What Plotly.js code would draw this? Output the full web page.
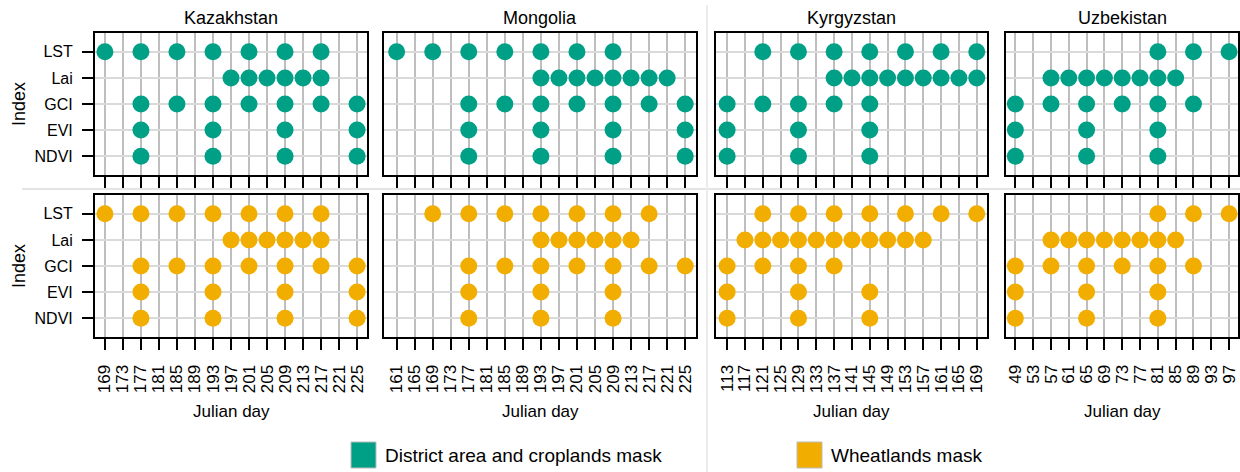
<!DOCTYPE html>
<html>
<head>
<meta charset="utf-8">
<script src="https://cdn.plot.ly/plotly-3.0.1.min.js"></script>
<style>html,body{margin:0;padding:0;background:#fff;}#chart{width:1240px;height:472px;}</style>
</head>
<body>
<div id="chart"></div>
<script>
// ---- categories ----
const indices = ['NDVI', 'EVI', 'GCI', 'Lai', 'LST'];
const countries = ['Kazakhstan', 'Mongolia', 'Kyrgyzstan', 'Uzbekistan'];
const masks = ['District area and croplands mask', 'Wheatlands mask'];

// ---- tick labels (Julian day) ----
const kazTicks = [169,173,177,181,185,189,193,197,201,205,209,213,217,221,225];
const monTicks = [161,165,169,173,177,181,185,189,193,197,201,205,209,213,217,221,225];
const kyrTicks = [113,117,121,125,129,133,137,141,145,149,153,157,161,165,169];
const uzbTicks = [49,53,57,61,65,69,73,77,81,85,89,93,97];

// ---- Kazakhstan, croplands mask ----
const kazCropNDVI = [177,193,209,225];
const kazCropEVI  = [177,193,209,225];
const kazCropGCI  = [177,185,193,201,209,217,225];
const kazCropLai  = [197,201,205,209,213,217];
const kazCropLST  = [169,177,185,193,201,209,217];
// ---- Kazakhstan, wheatlands mask ----
const kazWheatNDVI = [177,193,209,225];
const kazWheatEVI  = [177,193,209,225];
const kazWheatGCI  = [177,185,193,201,209,217,225];
const kazWheatLai  = [197,201,205,209,213,217];
const kazWheatLST  = [169,177,185,193,201,209,217];

// ---- Mongolia, croplands mask ----
const monCropNDVI = [177,193,209,225];
const monCropEVI  = [177,193,209,225];
const monCropGCI  = [177,185,193,201,209,217,225];
const monCropLai  = [193,197,201,205,209,213,217,221];
const monCropLST  = [161,169,177,185,193,201,209];
// ---- Mongolia, wheatlands mask ----
const monWheatNDVI = [177,193,209];
const monWheatEVI  = [177,193,209];
const monWheatGCI  = [177,185,193,201,209,217,225];
const monWheatLai  = [193,197,201,205,209,213];
const monWheatLST  = [169,177,185,193,201,209,217];

// ---- Kyrgyzstan, croplands mask ----
const kyrCropNDVI = [113,129,145];
const kyrCropEVI  = [113,129,145];
const kyrCropGCI  = [113,121,129,137,145];
const kyrCropLai  = [137,141,145,149,153,157,161,165,169];
const kyrCropLST  = [121,129,137,145,153,161,169];
// ---- Kyrgyzstan, wheatlands mask ----
const kyrWheatNDVI = [113,129,145];
const kyrWheatEVI  = [113,129,145];
const kyrWheatGCI  = [113,121,129,137];
const kyrWheatLai  = [117,121,125,129,133,137,141,145,149,153,157];
const kyrWheatLST  = [121,129,137,145,153,161,169];

// ---- Uzbekistan, croplands mask ----
const uzbCropNDVI = [49,65,81];
const uzbCropEVI  = [49,65,81];
const uzbCropGCI  = [49,57,65,73,81,89];
const uzbCropLai  = [57,61,65,69,73,77,81,85];
const uzbCropLST  = [81,89,97];
// ---- Uzbekistan, wheatlands mask ----
const uzbWheatNDVI = [49,65,81];
const uzbWheatEVI  = [49,65,81];
const uzbWheatGCI  = [49,57,65,73,81,89];
const uzbWheatLai  = [57,61,65,69,73,77,81,85];
const uzbWheatLST  = [81,89,97];

// ---- styling ----
const COL_CROP = '#00A087';
const COL_WHEAT = '#F2AE00';
const W = 1240, H = 472;
const FONT = 'Liberation Sans, Arial, sans-serif';

const panelsX = [[95, 367], [384, 696], [716, 987], [1006, 1238]];
const rangesX = [[166.8, 227.2], [158.2, 227.4], [110.5, 171.3], [46.9, 99.0]];
const ticksX = [kazTicks, monTicks, kyrTicks, uzbTicks];
const rowsY = [[33, 175], [195, 337]];

const sets = [
  [ [kazCropNDVI,kazCropEVI,kazCropGCI,kazCropLai,kazCropLST],
    [monCropNDVI,monCropEVI,monCropGCI,monCropLai,monCropLST],
    [kyrCropNDVI,kyrCropEVI,kyrCropGCI,kyrCropLai,kyrCropLST],
    [uzbCropNDVI,uzbCropEVI,uzbCropGCI,uzbCropLai,uzbCropLST] ],
  [ [kazWheatNDVI,kazWheatEVI,kazWheatGCI,kazWheatLai,kazWheatLST],
    [monWheatNDVI,monWheatEVI,monWheatGCI,monWheatLai,monWheatLST],
    [kyrWheatNDVI,kyrWheatEVI,kyrWheatGCI,kyrWheatLai,kyrWheatLST],
    [uzbWheatNDVI,uzbWheatEVI,uzbWheatGCI,uzbWheatLai,uzbWheatLST] ]
];
const rowColors = [COL_CROP, COL_WHEAT];

const px2x = p => p / W;
const px2y = p => 1 - p / H;

const data = [];
const layout = {
  width: W, height: H,
  margin: {l: 0, r: 0, t: 0, b: 0},
  paper_bgcolor: '#fff', plot_bgcolor: '#fff',
  showlegend: false,
  font: {family: FONT, color: '#000'},
  annotations: [], shapes: []
};

let n = 0;
for (let r = 0; r < 2; r++) {
  for (let c = 0; c < 4; c++) {
    n++;
    const xs = [], ys = [];
    sets[r][c].forEach((arr, i) => { arr.forEach(d => { xs.push(d); ys.push(indices[i]); }); });
    const xa = 'x' + (n === 1 ? '' : n), ya = 'y' + (n === 1 ? '' : n);
    data.push({
      type: 'scatter', mode: 'markers', x: xs, y: ys,
      xaxis: xa, yaxis: ya, cliponaxis: false, hoverinfo: 'x+y',
      marker: {color: rowColors[r], size: 17, line: {width: 0}}
    });
    const xk = 'xaxis' + (n === 1 ? '' : n), yk = 'yaxis' + (n === 1 ? '' : n);
    layout[xk] = {
      domain: [px2x(panelsX[c][0]), px2x(panelsX[c][1])],
      anchor: ya, range: rangesX[c],
      tickmode: 'array', tickvals: ticksX[c], ticktext: ticksX[c].map(String),
      showticklabels: r === 1, tickangle: -90, ticklabelstandoff: 8,
      ticks: 'outside', ticklen: 11, tickwidth: 2, tickcolor: '#000',
      tickfont: {size: 17, family: FONT, color: '#000'},
      showgrid: true, gridcolor: '#bebebe', gridwidth: 2,
      zeroline: false, showline: true, linecolor: '#000', linewidth: 2, mirror: true,
      fixedrange: true
    };
    layout[yk] = {
      domain: [px2y(rowsY[r][1]), px2y(rowsY[r][0])],
      anchor: xa, type: 'category', categoryorder: 'array', categoryarray: indices,
      range: [-0.72, 4.72],
      showticklabels: c === 0, ticks: c === 0 ? 'outside' : '', ticklen: 11, tickwidth: 2, tickcolor: '#000',
      ticklabelstandoff: 6,
      tickfont: {size: 16, family: FONT, color: '#000'},
      showgrid: true, gridcolor: '#dadada', gridwidth: 2,
      zeroline: false, showline: true, linecolor: '#000', linewidth: 2, mirror: true,
      fixedrange: true
    };
    if (r === 1) {
      layout.annotations.push({
        xref: 'paper', yref: 'paper', x: px2x((panelsX[c][0] + panelsX[c][1]) / 2), y: px2y(411),
        text: 'Julian day', showarrow: false, xanchor: 'center', yanchor: 'middle',
        font: {size: 17, family: FONT, color: '#000'}
      });
    }
  }
  layout.annotations.push({
    xref: 'paper', yref: 'paper', x: px2x(19), y: px2y((rowsY[r][0] + rowsY[r][1]) / 2),
    text: 'Index', showarrow: false, textangle: -90, xanchor: 'center', yanchor: 'middle',
    font: {size: 18, family: FONT, color: '#000'}
  });
}
countries.forEach((name, c) => {
  layout.annotations.push({
    xref: 'paper', yref: 'paper', x: px2x((panelsX[c][0] + panelsX[c][1]) / 2), y: px2y(18),
    text: name, showarrow: false, xanchor: 'center', yanchor: 'middle',
    font: {size: 18, family: FONT, color: '#000'}
  });
});

// separator lines
layout.shapes.push({type: 'line', xref: 'paper', yref: 'paper', x0: px2x(22), x1: 1, y0: px2y(189), y1: px2y(189),
  line: {color: '#e4e4e4', width: 2}, layer: 'below'});
layout.shapes.push({type: 'line', xref: 'paper', yref: 'paper', x0: px2x(707), x1: px2x(707), y0: px2y(5), y1: 0,
  line: {color: '#ececec', width: 2}, layer: 'below'});

// legend
const legendItems = [[351, COL_CROP, masks[0]], [797, COL_WHEAT, masks[1]]];
legendItems.forEach(([x0, col, label]) => {
  layout.shapes.push({type: 'rect', xref: 'paper', yref: 'paper',
    x0: px2x(x0), x1: px2x(x0 + 25), y0: px2y(468), y1: px2y(442),
    fillcolor: col, line: {color: '#bbbbbb', width: 1}});
  layout.annotations.push({xref: 'paper', yref: 'paper', x: px2x(x0 + 32), y: px2y(455),
    text: label, showarrow: false, xanchor: 'left', yanchor: 'middle',
    font: {size: 19, family: FONT, color: '#000'}});
});

Plotly.newPlot('chart', data, layout, {displayModeBar: false, staticPlot: true});
</script>
</body>
</html>
